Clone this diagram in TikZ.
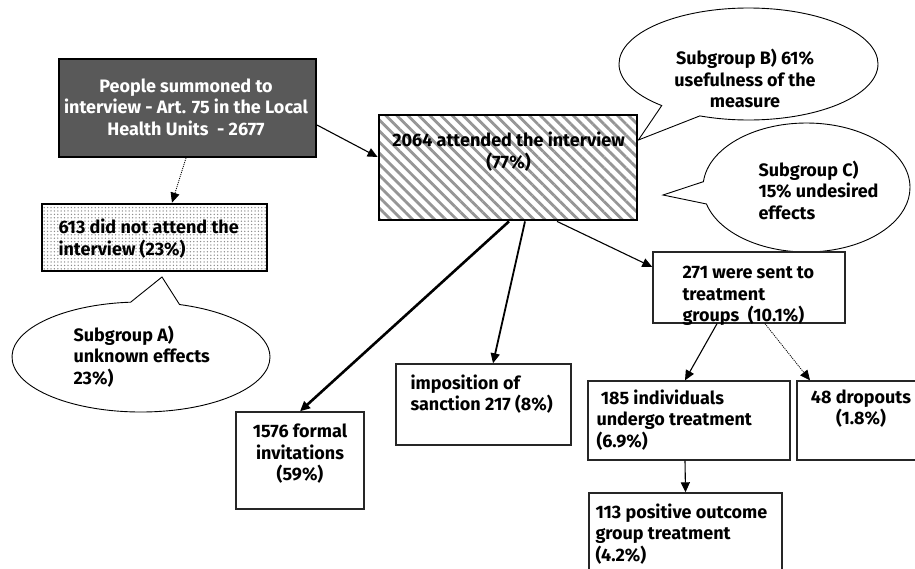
\documentclass[tikz,border=0pt]{standalone}
\usepackage{fontspec}
\setmainfont{Fira Sans}
\usetikzlibrary{arrows.meta,patterns.meta,shapes.callouts}
\definecolor{darkbox}{RGB}{89,89,89}
\definecolor{stripe}{RGB}{150,150,150}
\begin{document}
\begin{tikzpicture}[x=1pt, y=-1pt, line width=1pt,
    box/.style={draw=black!85, line width=1.4pt, inner sep=0pt},
    bubble/.style={ellipse callout, draw, line width=0.9pt, inner sep=0pt},
    txt/.style={inner sep=0pt, font=\fontsize{18}{21.5}\selectfont\bfseries},
    arr/.style={-{Triangle[length=10pt,width=9pt]}, line width=1.1pt}]
  \useasboundingbox (0,0) rectangle (915,568);
  % upper row
  \node[box, fill=darkbox, draw=black, line width=2pt, minimum width=257, minimum height=98] (sum) at (187.5,108) {};
  \node[txt, text=white, align=center] (sum-t) at (186,107) {People summoned to\\interview - Art. 75 in the Local\\Health Units\ \ - 2677};
  \node[box, draw=black, line width=2.6pt, pattern={Lines[angle=-45, distance=7.8pt, line width=2.8pt]}, pattern color=stripe, minimum width=258, minimum height=105] (att) at (508,167.5) {};
  \node[txt, align=center] (att-t) at (508.5,151.5) {2064 attended the interview\\(77\%)};
  \node[box, draw=black, line width=2.6pt, pattern={Dots[distance=3.4pt, radius=0.75pt]}, pattern color=black!45, minimum width=225, minimum height=67] (no) at (154.5,237.5) {};
  \node[txt, align=left, anchor=west] (no-t) at (58,238.5) {613 did not attend the\\interview (23\%)};
  % callouts
  \node[bubble, minimum width=258, minimum height=110, callout pointer arc=22, callout absolute pointer={(162,277)}] (subA) at (141,357) {};
  \node[txt, align=left, anchor=west] (subA-t) at (73,356.5) {Subgroup A)\\unknown effects\\23\%)};
  \node[bubble, minimum width=259, minimum height=112, callout pointer arc=20, callout absolute pointer={([yshift=27.5pt]att.east)}] (subB) at (748.5,64) {};
  \node[txt, align=center] (subB-t) at (745,78.5) {Subgroup B) 61\%\\usefulness of the\\measure};
  \node[bubble, minimum width=207, minimum height=129, callout pointer arc=20, callout absolute pointer={(663,195)}] (subC) at (806.5,187.5) {};
  \node[txt, align=left, anchor=west] (subC-t) at (758,190) {Subgroup C)\\15\% undesired\\effects};
  % lower boxes
  \node[box, minimum width=128, minimum height=97] (inv) at (300,460.5) {};
  \node[txt, align=center] (inv-t) at (300,454) {1576 formal\\invitations\\(59\%)};
  \node[box, minimum width=175, minimum height=81] (san) at (483.5,404.5) {};
  \node[txt, align=left, anchor=west] (san-t) at (410,394) {imposition of\\sanction 217 (8\%)};
  \node[box, minimum width=192, minimum height=71] (sent) at (749,287.5) {};
  \node[txt, align=left, anchor=west] (sent-t) at (682,296) {271 were sent to\\treatment\\groups\ \ (10.1\%)};
  \node[box, minimum width=202, minimum height=79] (ind) at (689,420.5) {};
  \node[txt, align=left, anchor=west] (ind-t) at (596,420) {\ 185 individuals\\undergo treatment\\(6.9\%)};
  \node[box, minimum width=128, minimum height=79] (drop) at (861,420.5) {};
  \node[txt, align=center] (drop-t) at (861,408.5) {48 dropouts\\(1.8\%)};
  \node[box, minimum width=193, minimum height=107] (pos) at (685.5,546.5) {};
  \node[txt, align=left, anchor=west] (pos-t) at (595,534) {113 positive outcome\\group treatment\\(4.2\%)};
  % arrows
  \draw[arr] ([yshift=-17pt]sum.east) -- ([yshift=10.5pt]att.west);
  \draw[arr, densely dotted, line width=0.8pt] ([xshift=-1.5pt]sum.south) -- ([xshift=17.5pt]no.north);
  \draw[arr, line width=2.6pt] ([xshift=1pt]att.south) -- (inv.north);
  \draw[arr, line width=1.8pt] ([xshift=17pt]att.south) -- ([xshift=9.5pt]san.north);
  \draw[arr] ([xshift=49pt]att.south) -- ([yshift=20.5pt]sent.west);
  \draw[arr] ([xshift=-32pt]sent.south) -- ([xshift=-4pt]ind.north);
  \draw[arr, densely dotted, line width=0.8pt] ([xshift=16pt]sent.south) -- ([xshift=-51pt]drop.north);
  \draw[arr] ([xshift=-4pt]ind.south) -- (pos.north);
\end{tikzpicture}
\end{document}
